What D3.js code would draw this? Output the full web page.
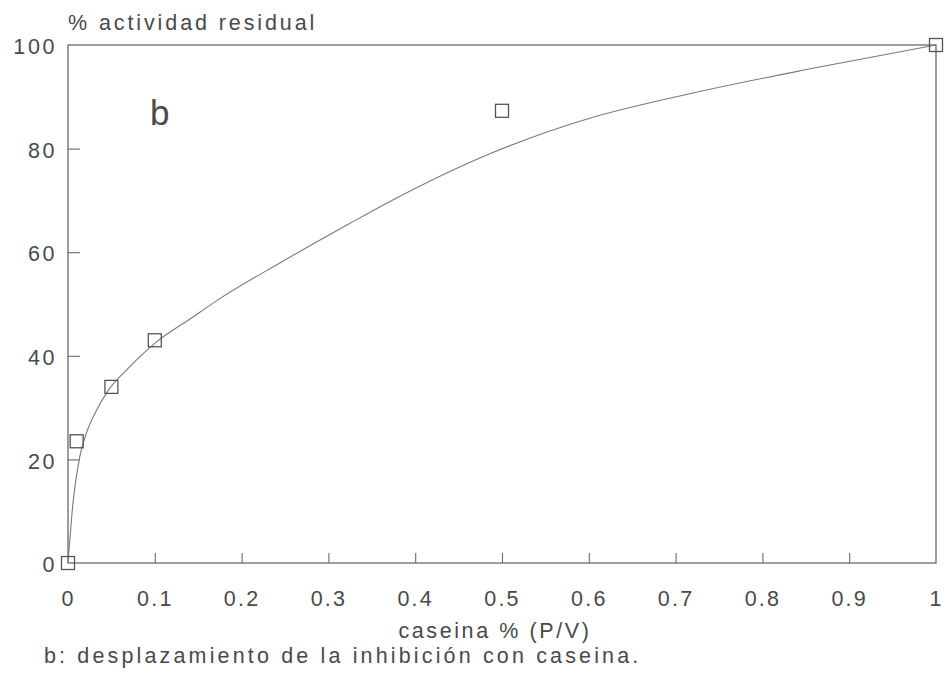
<!DOCTYPE html>
<html>
<head>
<meta charset="utf-8">
<script src="https://cdn.jsdelivr.net/npm/d3@7"></script>
<style>
  html, body { margin: 0; padding: 0; background: #fff; }
  svg text { font-family: "Liberation Sans", Arial, Helvetica, sans-serif; fill: #4a4a4a; }
</style>
</head>
<body>
<svg id="chart" width="947" height="683"></svg>
<script>
// Measured residual activity (%) against casein concentration (% P/V)
const caseinConc = [0, 0.01, 0.05, 0.1, 0.5, 1];
const residualActivity = [0, 23.5, 34, 43, 87.3, 100];

// Fitted curve, sampled along its course
const fitX = [0, 0.006, 0.0135, 0.021, 0.029, 0.048, 0.067, 0.1, 0.144, 0.171, 0.248, 0.325, 0.371, 0.486, 0.602, 0.706, 0.855, 1];
const fitY = [0, 12, 20.5, 25, 28.2, 33.7, 37.2, 42.4, 47.5, 50.6, 58.3, 65.6, 69.8, 79.0, 85.9, 90.2, 95.4, 100];

const xTicks = [0, 0.1, 0.2, 0.3, 0.4, 0.5, 0.6, 0.7, 0.8, 0.9, 1];
const yTicks = [0, 20, 40, 60, 80, 100];

const yTitle = "% actividad residual";
const xTitle = "caseina % (P/V)";
const caption = "b: desplazamiento de la inhibición con caseina.";
const panelLetter = "b";

const svg = d3.select("#chart");
const margin = { left: 68, right: 11, top: 45, bottom: 120 };
const W = 947, H = 683;

const x = d3.scaleLinear().domain([0, 1]).range([margin.left, W - margin.right]);
const y = d3.scaleLinear().domain([0, 100]).range([H - margin.bottom, margin.top]);

const lineColor = "#6a6a6a";
const fs = 21.5;

// frame around the plotting area
svg.append("rect")
  .attr("x", x(0)).attr("y", y(100))
  .attr("width", x(1) - x(0)).attr("height", y(0) - y(100))
  .attr("fill", "none").attr("stroke", lineColor).attr("stroke-width", 1.3);

// x axis: inward ticks, labels below
const xAxis = d3.axisBottom(x).tickValues(xTicks).tickSize(-10).tickPadding(28)
  .tickFormat(d => d === 0 || d === 1 ? String(d) : d3.format(".1f")(d));
const gx = svg.append("g").attr("transform", `translate(0,${y(0)})`).call(xAxis);
gx.select(".domain").remove();
gx.selectAll(".tick line").attr("stroke", lineColor).attr("stroke-width", 1.1)
  .filter(d => d === 0 || d === 1).remove();
gx.selectAll(".tick text").attr("font-size", fs).attr("letter-spacing", 2.2)
  .attr("fill", "#4a4a4a").attr("dy", "0.71em");

// y axis: inward ticks, labels to the left
const yAxis = d3.axisLeft(y).tickValues(yTicks).tickSize(-12).tickPadding(11);
const gy = svg.append("g").attr("transform", `translate(${x(0)},0)`).call(yAxis);
gy.select(".domain").remove();
gy.selectAll(".tick line").attr("stroke", lineColor).attr("stroke-width", 1.1)
  .filter(d => d === 0 || d === 100).remove();
gy.selectAll(".tick text").attr("font-size", fs).attr("letter-spacing", 2.6)
  .attr("fill", "#4a4a4a").attr("dy", "0.4em");

// fitted curve
const fitPts = fitX.map((v, i) => [v, fitY[i]]);
svg.append("path")
  .datum(fitPts)
  .attr("fill", "none")
  .attr("stroke", "#7a7a7a")
  .attr("stroke-width", 1.1)
  .attr("d", d3.line().x(d => x(d[0])).y(d => y(d[1])).curve(d3.curveMonotoneX));

// measured points as open squares
const s = 13;
svg.append("g").selectAll("rect")
  .data(caseinConc.map((v, i) => [v, residualActivity[i]]))
  .join("rect")
  .attr("x", d => x(d[0]) - s / 2)
  .attr("y", d => y(d[1]) - s / 2)
  .attr("width", s).attr("height", s)
  .attr("fill", "none")
  .attr("stroke", "#555")
  .attr("stroke-width", 1.3);

// titles and labels
svg.append("text").attr("x", x(0)).attr("y", 30)
  .attr("font-size", fs).attr("letter-spacing", 2.9).text(yTitle);

svg.append("text").attr("x", 150).attr("y", 125)
  .attr("font-size", 35).text(panelLetter);

svg.append("text").attr("x", 495).attr("y", 638)
  .attr("text-anchor", "middle")
  .attr("font-size", fs).attr("letter-spacing", 2.6).text(xTitle);

svg.append("text").attr("x", 44).attr("y", 663)
  .attr("font-size", fs).attr("letter-spacing", 3.15).text(caption);
</script>
</body>
</html>
